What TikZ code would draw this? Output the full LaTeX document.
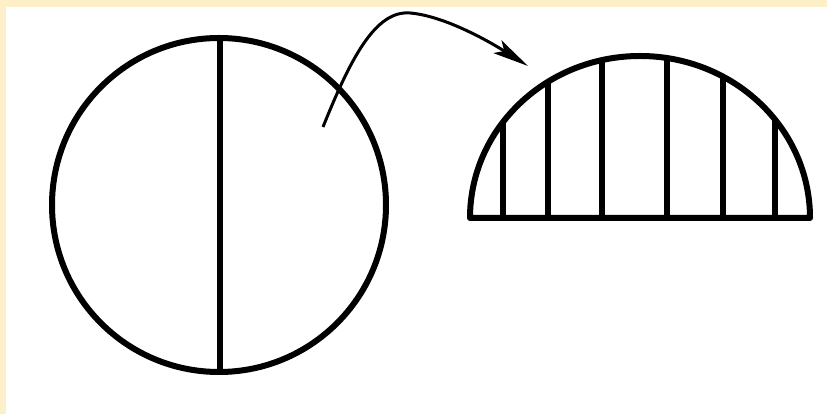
\documentclass[tikz,border=0pt]{standalone}
\usetikzlibrary{arrows.meta}
\definecolor{cream}{RGB}{253,239,200}
\tikzset{
  shape line/.style={line width=6pt, black},
  inner line/.style={line width=5.5pt, black},
  arrow line/.style={line width=3pt, black, -{Stealth[length=36pt,width=15pt,inset=8pt]}}
}
\begin{document}
\begin{tikzpicture}[x=1pt,y=1pt]
\useasboundingbox (0,0) rectangle (827,414);
\fill[cream] (0,0) rectangle (827,414);
\fill[white] (6,0) rectangle (827,407);
% circle with diameter
\coordinate (cc) at (219,209);
\draw[inner line] (220,42) -- (220,376);
\draw[shape line] (cc) circle[radius=167];
% half disc with vertical lines
\coordinate (bl) at (470,196);
\coordinate (br) at (810,196);
\begin{scope}
  \clip (bl) arc[start angle=180,end angle=0,x radius=170,y radius=162] -- cycle;
  \foreach \x in {503,548,602,667,723,775}
    \draw[inner line] (\x,190) -- (\x,370);
\end{scope}
\draw[shape line, line join=round] (bl) arc[start angle=180,end angle=0,x radius=170,y radius=162] -- cycle;
% curved arrow
\coordinate (as) at (323,287);
\coordinate (ap) at (410,401);
\coordinate (at) at (528,348);
\draw[arrow line] (as) .. controls (350,354) and (375,404) .. (ap) .. controls (445,398) and (490,372) .. (at);
\end{tikzpicture}
\end{document}
